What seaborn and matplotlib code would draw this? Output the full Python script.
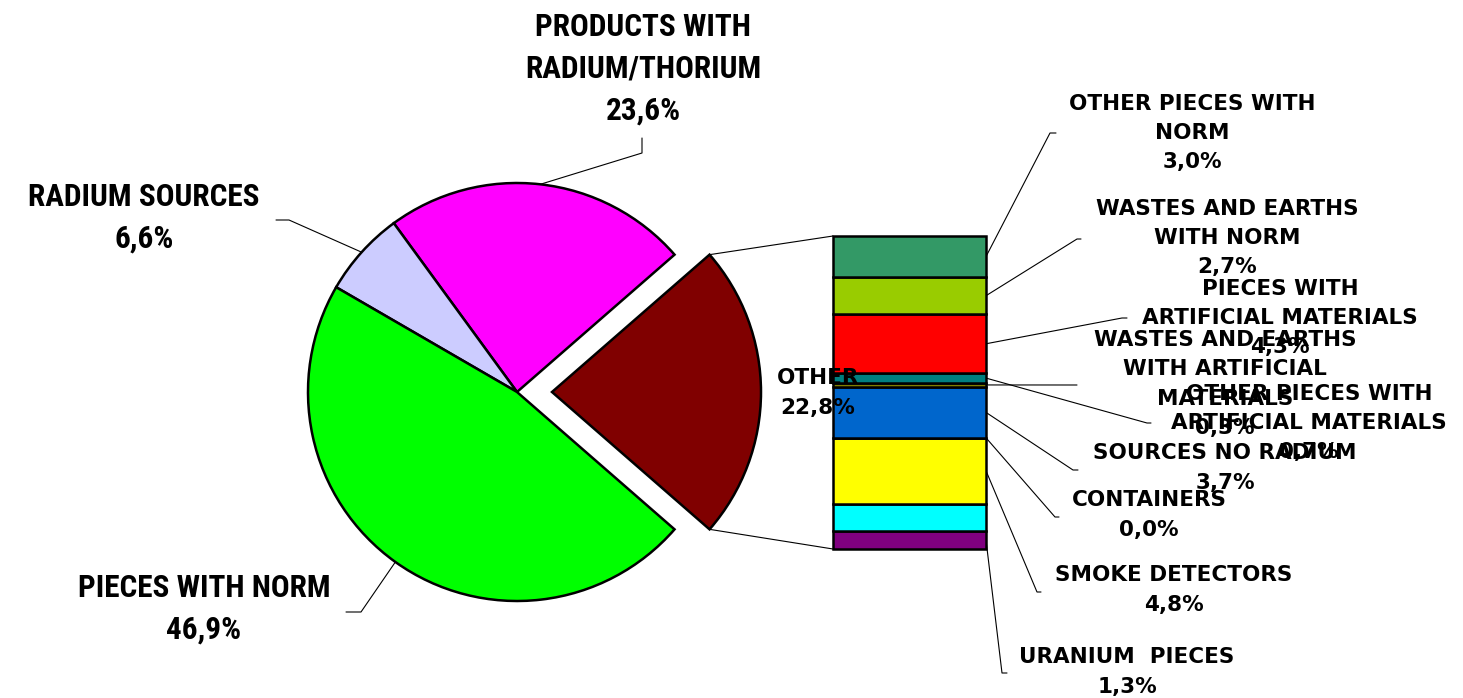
import matplotlib
matplotlib.use("Agg")
import matplotlib.pyplot as plt
import seaborn as sns
import numpy as np

sns.set_theme(style="white")
plt.rcParams["font.family"] = ["DejaVu Sans"]

W, H = 1463, 698

# Main pie: share of each category (%)
pie_labels = ["OTHER", "PRODUCTS WITH\nRADIUM/THORIUM", "RADIUM SOURCES", "PIECES WITH NORM"]
pie_values = [22.8, 23.6, 6.6, 46.9]
pie_colors = ["#800000", "#FF00FF", "#CCCCFF", "#00FF00"]

# Breakdown of OTHER, stacked from bottom to top (%)
bar_labels = ["URANIUM  PIECES", "", "SMOKE DETECTORS", "CONTAINERS", "SOURCES NO RADIUM",
              "WASTES AND EARTHS\nWITH ARTIFICIAL\nMATERIALS",
              "OTHER PIECES WITH\nARTIFICIAL MATERIALS",
              "PIECES WITH\nARTIFICIAL MATERIALS",
              "WASTES AND EARTHS\nWITH NORM",
              "OTHER PIECES WITH\nNORM"]
bar_values = [1.3, 2.0, 4.8, 0.0, 3.7, 0.3, 0.7, 4.3, 2.7, 3.0]
bar_colors = ["#800080", "#00FFFF", "#FFFF00", "#C0C0C0", "#0066CC",
              "#808000", "#008080", "#FF0000", "#99CC00", "#339966"]


def fmt(v):
    return f"{v:.1f}%".replace(".", ",")


def py(y):
    # convert a top-down pixel row into the axes' bottom-up coordinate
    return H - y


fig = plt.figure(figsize=(W / 100, H / 100), dpi=100)
ax = fig.add_axes([0, 0, 1, 1])

# ---- pie ----
pie_center = (517, py(392))
pie_radius = 209
explode_px = 35
start = -pie_values[0] / sum(pie_values) * 180
wedges, _ = ax.pie(pie_values, colors=pie_colors, startangle=start, counterclock=True,
                   center=pie_center, radius=pie_radius,
                   explode=[explode_px, 0, 0, 0],
                   wedgeprops=dict(edgecolor="black", linewidth=1.8),
                   frame=True)

# ---- stacked bar ----
bar_left, bar_right = 833, 986
bar_bottom, bar_top = py(549), py(236)
scale = (bar_top - bar_bottom) / pie_values[0]
bar_x = (bar_left + bar_right) / 2
bar_w = bar_right - bar_left
bottoms = bar_bottom + np.concatenate([[0], np.cumsum(bar_values)[:-1]]) * scale
heights = np.array(bar_values) * scale
ax.bar([bar_x] * len(bar_values), heights, bottom=bottoms, width=bar_w,
       color=bar_colors, edgecolor="black", linewidth=1.8, zorder=3)

# connectors from the exploded wedge to the bar
w0 = wedges[0]
cx, cy = w0.center
for th, yb in [(w0.theta2, bar_top), (w0.theta1, bar_bottom)]:
    x0 = cx + w0.r * np.cos(np.radians(th))
    y0 = cy + w0.r * np.sin(np.radians(th))
    ax.plot([x0, bar_left], [y0, yb], color="black", lw=0.8, zorder=2)

# ---- pie labels ----
main_font = dict(family=["Roboto Condensed", "DejaVu Sans"], fontweight="bold",
                 fontsize=22.5, color="black", ha="center", va="center",
                 multialignment="center", linespacing=1.48)
main_pos = {1: ((643, 69), [(642, 153), (642, 138)]),
            2: ((144, 218), [(289, 220), (276, 220)]),
            3: ((204, 609), [(361, 612), (346, 612)])}
for i, ((tx, ty), elbow) in main_pos.items():
    w = wedges[i]
    mid = np.radians((w.theta1 + w.theta2) / 2)
    ax0 = w.center[0] + w.r * np.cos(mid)
    ay0 = w.center[1] + w.r * np.sin(mid)
    xs = [ax0] + [e[0] for e in elbow]
    ys = [ay0] + [py(e[1]) for e in elbow]
    ax.plot(xs, ys, color="black", lw=0.8, zorder=2)
    ax.text(tx, py(ty), f"{pie_labels[i]}\n{fmt(pie_values[i])}", **main_font)

small_font = dict(family=["DejaVu Sans"], fontweight="bold", fontsize=15.5,
                  color="black", ha="center", va="center",
                  multialignment="center", linespacing=1.58, zorder=5)
ax.text(818, py(393), f"{pie_labels[0]}\n{fmt(pie_values[0])}", **small_font)

# ---- bar labels ----
bar_pos = {9: ((1192, 133), [(1050, 133), (1056, 133)]),
           8: ((1227, 238), [(1077, 239), (1081, 239)]),
           7: ((1280, 318), [(1122, 318), (1127, 318)]),
           6: ((1309, 423), [(1147, 423), (1151, 423)]),
           5: ((1225, 384), [(1077, 385)]),
           4: ((1225, 468), [(1073, 470), (1078, 470)]),
           3: ((1149, 515), [(1055, 517), (1059, 517)]),
           2: ((1174, 590), [(1037, 592), (1041, 592)]),
           0: ((1127, 672), [(1002, 673), (1007, 673)])}
for i, ((tx, ty), elbow) in bar_pos.items():
    yc = bottoms[i] + heights[i] / 2
    xs = [bar_right] + [e[0] for e in elbow]
    ys = [yc] + [py(e[1]) for e in elbow]
    ax.plot(xs, ys, color="black", lw=0.8, zorder=2)
    ax.text(tx, py(ty), f"{bar_labels[i]}\n{fmt(bar_values[i])}", **small_font)

ax.set_xlim(0, W)
ax.set_ylim(0, H)
ax.set_aspect("equal")
ax.axis("off")

fig.savefig("out.png", dpi=100, facecolor="white")
